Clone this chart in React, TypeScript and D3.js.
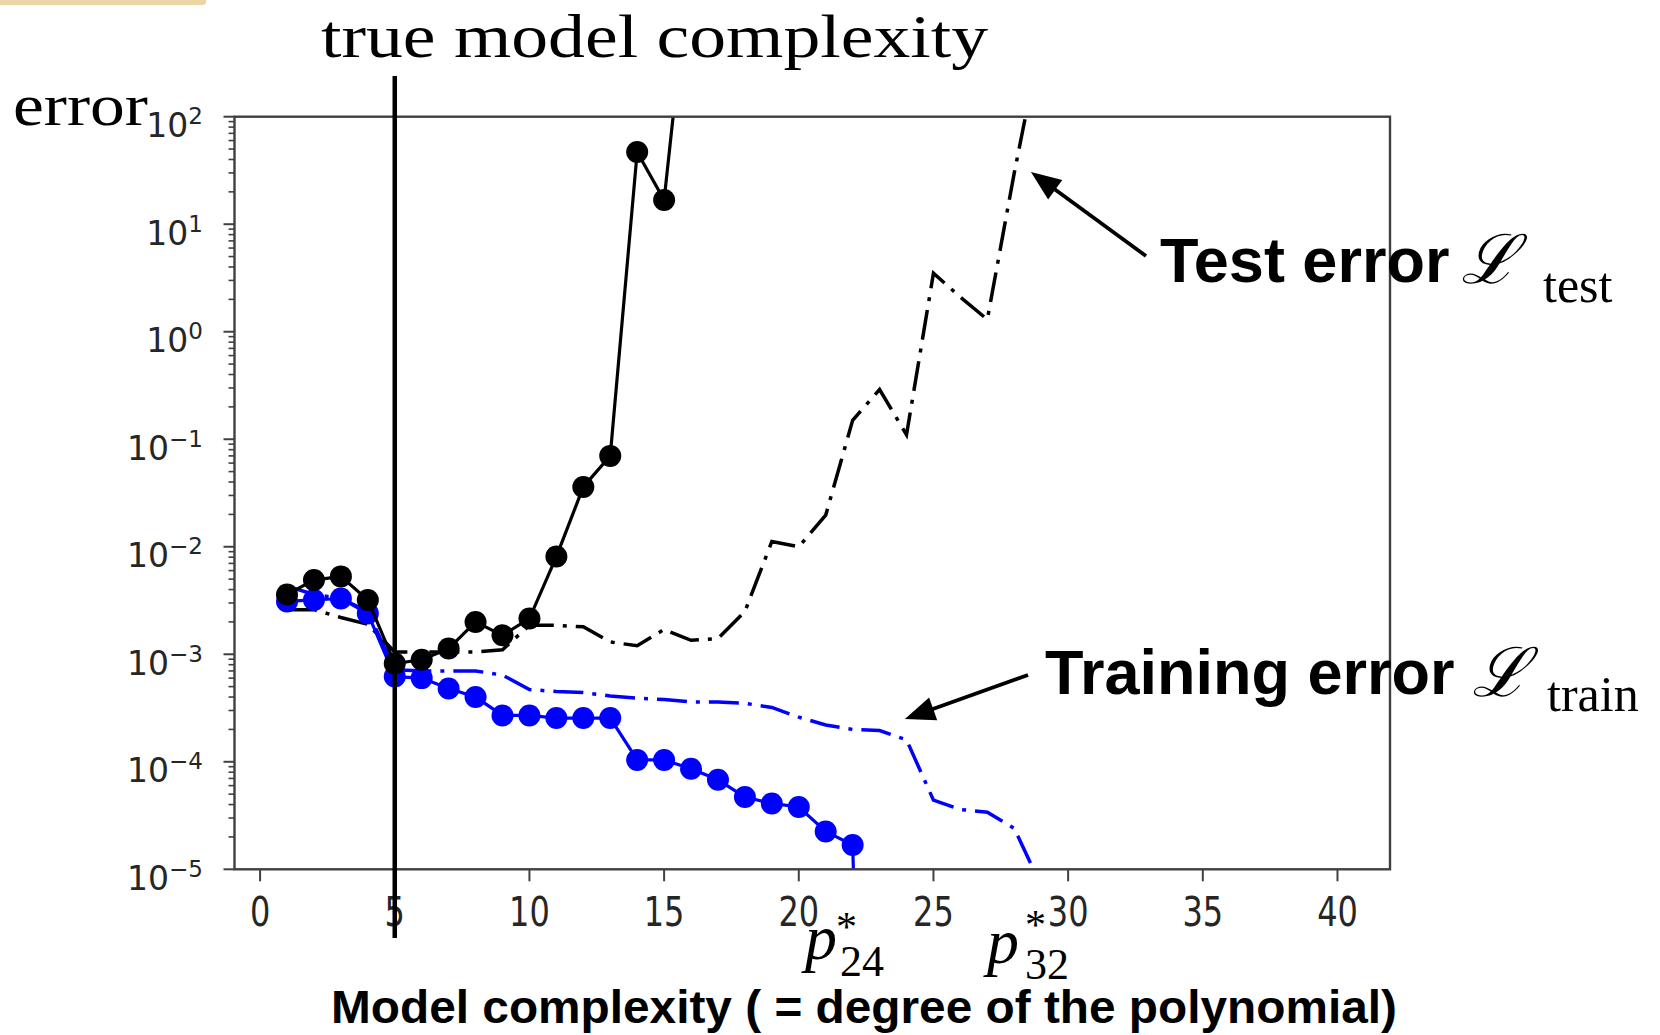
import React from 'react';
import * as d3 from 'd3';

// ---- data (value per polynomial degree, starting at degree 1) ----
const trainSolid = [3.1e-3, 3.2e-3, 3.3e-3, 2.4e-3, 6.2e-4, 6.0e-4, 4.8e-4, 4.0e-4, 2.7e-4, 2.7e-4, 2.55e-4, 2.55e-4, 2.55e-4, 1.04e-4, 1.04e-4, 8.6e-5, 6.8e-5, 4.7e-5, 4.1e-5, 3.8e-5, 2.25e-5, 1.68e-5, 1e-13];
const testSolid = [3.6e-3, 4.9e-3, 5.3e-3, 3.2e-3, 8.2e-4, 8.9e-4, 1.13e-3, 2.0e-3, 1.5e-3, 2.15e-3, 8.1e-3, 3.6e-2, 7.0e-2, 47, 16.8, 3500];
const trainDashDot = [4.3e-3, 3.6e-3, 3.3e-3, 2.5e-3, 7.2e-4, 7.0e-4, 7.0e-4, 7.0e-4, 6.4e-4, 4.7e-4, 4.5e-4, 4.4e-4, 4.1e-4, 3.9e-4, 3.8e-4, 3.6e-4, 3.6e-4, 3.5e-4, 3.2e-4, 2.6e-4, 2.2e-4, 2.0e-4, 1.95e-4, 1.6e-4, 4.4e-5, 3.6e-5, 3.4e-5, 2.4e-5, 7e-6];
const testDashDot = [2.6e-3, 2.6e-3, 2.2e-3, 1.9e-3, 1.05e-3, 1.05e-3, 1.05e-3, 1.05e-3, 1.1e-3, 1.86e-3, 1.86e-3, 1.8e-3, 1.3e-3, 1.2e-3, 1.7e-3, 1.35e-3, 1.4e-3, 2.5e-3, 1.12e-2, 1.0e-2, 1.97e-2, 0.15, 0.29, 0.11, 3.5, 2.1, 1.3, 30, 540];

const xTicks = [0, 5, 10, 15, 20, 25, 30, 35, 40];
const yExponents = [-5, -4, -3, -2, -1, 0, 1, 2];
const trueDegree = 5;
const testArrowTip = [28.62, 30.6];
const trainArrowTip = [23.94, 2.5e-4];

const W = 1660, H = 1035;
const L = 234.5, R = 1390, T = 116.7, B = 869.3;

const x = d3.scaleLinear().domain([-0.95, 41.95]).range([L, R]);
const y = d3.scaleLog().domain([1e-5, 1e2]).range([B, T]);

const line = d3.line<number>().x((_, i) => x(i + 1)).y(d => y(d));

const sup = (e: number) => (e < 0 ? '\u2212' + Math.abs(e) : String(e));

function Arrow({ tail, tip }: { tail: [number, number]; tip: [number, number] }) {
  const dx = tip[0] - tail[0], dy = tip[1] - tail[1];
  const len = Math.hypot(dx, dy);
  const ux = dx / len, uy = dy / len;
  const hl = 30, hw = 12;
  const bx = tip[0] - ux * hl, by = tip[1] - uy * hl;
  const nx = -uy, ny = ux;
  return (
    <g>
      <line x1={tail[0]} y1={tail[1]} x2={bx + ux * 4} y2={by + uy * 4} stroke="#000" strokeWidth={3.8} />
      <polygon points={`${tip[0]},${tip[1]} ${bx + nx * hw},${by + ny * hw} ${bx - nx * hw},${by - ny * hw}`} fill="#000" />
    </g>
  );
}

export default function App() {
  const minor: number[] = [];
  for (let e = -5; e < 2; e++) for (let k = 2; k <= 9; k++) minor.push(k * Math.pow(10, e));
  const axisColor = '#404040';
  const tickFont = 'DejaVu Sans, sans-serif';
  const serif = 'Liberation Serif, serif';
  const sans = 'Liberation Sans, Arial, sans-serif';

  return (
    <svg width={W} height={H} style={{ position: 'absolute', left: 0, top: 0, background: '#fff' }} xmlns="http://www.w3.org/2000/svg">
      <rect x={0} y={0} width={W} height={H} fill="#fff" />
      <path d="M0,0 H206 V2 Q206,5 203,5 H0 Z" fill="#ead7a5" />
      <defs>
        <clipPath id="plotClip">
          <rect x={L} y={T} width={R - L} height={B - T} />
        </clipPath>
      </defs>

      {/* ticks */}
      {xTicks.map(t => (
        <line key={'xt' + t} x1={x(t)} x2={x(t)} y1={B} y2={B + 12} stroke={axisColor} strokeWidth={2} />
      ))}
      {yExponents.map(e => (
        <line key={'yt' + e} x1={L - 11} x2={L} y1={y(Math.pow(10, e))} y2={y(Math.pow(10, e))} stroke={axisColor} strokeWidth={2} />
      ))}
      {minor.map((v, i) => (
        <line key={'ym' + i} x1={L - 6} x2={L} y1={y(v)} y2={y(v)} stroke={axisColor} strokeWidth={1.6} />
      ))}

      {/* tick labels */}
      {xTicks.map(t => (
        <text key={'xl' + t} transform={`translate(${x(t)},926) scale(1,1.28)`} textAnchor="middle" fontFamily={tickFont} fontSize={32} fill="#262626">{t}</text>
      ))}
      {yExponents.map(e => (
        <text key={'yl' + e} x={203} y={y(Math.pow(10, e)) + 20.5} textAnchor="end" fontFamily={tickFont} fontSize={33} fill="#262626">
          <tspan>10</tspan>
          <tspan fontSize={23} dy={-13}>{sup(e)}</tspan>
        </text>
      ))}

      {/* series */}
      <g clipPath="url(#plotClip)">
        <path d={line(trainDashDot) || ''} fill="none" stroke="#0000ff" strokeWidth={3.5} strokeDasharray="30,9,4,9" />
        <path d={line(testDashDot) || ''} fill="none" stroke="#000" strokeWidth={3.5} strokeDasharray="30,9,4,9" />
        <path d={line(trainSolid) || ''} fill="none" stroke="#0000ff" strokeWidth={3.2} />
        {trainSolid.map((v, i) => (
          <circle key={'tr' + i} cx={x(i + 1)} cy={y(v)} r={11} fill="#0000ff" />
        ))}
        <path d={line(testSolid) || ''} fill="none" stroke="#000" strokeWidth={3.2} />
        {testSolid.map((v, i) => (
          <circle key={'te' + i} cx={x(i + 1)} cy={y(v)} r={11} fill="#000" />
        ))}
      </g>

      {/* frame */}
      <rect x={L} y={T} width={R - L} height={B - T} fill="none" stroke={axisColor} strokeWidth={2.4} />

      {/* true model complexity */}
      <line x1={x(trueDegree)} x2={x(trueDegree)} y1={76} y2={938} stroke="#000" strokeWidth={4.5} />
      <text x={321} y={57} fontFamily={serif} fontSize={61} textLength={667} lengthAdjust="spacingAndGlyphs">true model complexity</text>
      <text x={13} y={125} fontFamily={serif} fontSize={60} textLength={135} lengthAdjust="spacingAndGlyphs">error</text>

      {/* annotations */}
      <Arrow tail={[1146, 256]} tip={[x(testArrowTip[0]), y(testArrowTip[1])]} />
      <Arrow tail={[1028, 675]} tip={[x(trainArrowTip[0]), y(trainArrowTip[1])]} />
      <text x={1160} y={282} fontFamily={sans} fontWeight="bold" fontSize={63}>Test error</text>
      <text x={1461} y={283} fontFamily="DejaVu Serif, serif" fontStyle="italic" fontSize={68}>ℒ</text>
      <text x={1543} y={302} fontFamily={serif} fontSize={50}>test</text>
      <text x={1045} y={694} fontFamily={sans} fontWeight="bold" fontSize={63}>Training error</text>
      <text x={1472} y={696} fontFamily="DejaVu Serif, serif" fontStyle="italic" fontSize={68}>ℒ</text>
      <text x={1547} y={711} fontFamily={serif} fontSize={50}>train</text>

      {/* p* labels */}
      <text x={805} y={959} fontFamily={serif} fontStyle="italic" fontSize={64}>p</text>
      <text x={836} y={941} fontFamily={serif} fontSize={42}>*</text>
      <text x={840} y={976} fontFamily={serif} fontSize={44}>24</text>
      <text x={987} y={963} fontFamily={serif} fontStyle="italic" fontSize={64}>p</text>
      <text x={1025} y={939} fontFamily={serif} fontSize={42}>*</text>
      <text x={1025} y={979} fontFamily={serif} fontSize={44}>32</text>

      <text x={864} y={1023} textAnchor="middle" fontFamily={sans} fontWeight="bold" fontSize={47} textLength={1066} lengthAdjust="spacingAndGlyphs">Model complexity ( = degree of the polynomial)</text>
    </svg>
  );
}
